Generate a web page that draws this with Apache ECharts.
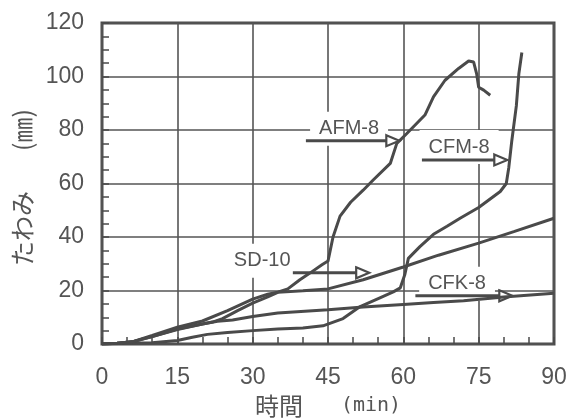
<!DOCTYPE html>
<html>
<head>
<meta charset="utf-8">
<script src="https://cdn.jsdelivr.net/npm/echarts@6/dist/echarts.min.js"></script>
<style>
  html, body { margin: 0; padding: 0; background: #fff; }
  #chart { width: 572px; height: 419px; }
</style>
</head>
<body>
<div id="chart"></div>
<script>
// Deflection (mm) against heating time (min) for four specimens
const xTicks = [0, 15, 30, 45, 60, 75, 90];
const yTicks = [0, 20, 40, 60, 80, 100, 120];

const afm8 = [[0,0],[3,0.3],[6,0.8],[10,3.2],[15,6.3],[20,8.6],[25,12.5],[30,16.8],[33,18.6],[35,19.4],
  [37,20.6],[39.4,24],[41.4,26.5],[43.8,29.6],[45,31],[46,40],[47.4,47.8],[49.5,53],[52,57.5],[54,61.3],
  [57.4,67.5],[58.7,75],[60.7,78.7],[64.3,85.6],[66,92.4],[68.3,98.6],[71,103],[73,105.8],[74,105.4],
  [74.6,101],[75,96],[76,94.9],[77.3,93]];

const cfm8 = [[0,0],[5,0.3],[10,0.5],[15,1.3],[18,2.5],[21,3.6],[25,4.3],[30,5],[35,5.6],[40,6],[44,6.8],[48,9.5],
  [51.4,14],[55,17],[58,19.5],[59.4,21],[60.3,26],[61,32],[63.3,36.4],[66,41],[68.7,44],[71.3,47],[75,51],
  [79.3,57],[80.5,60],[81,66],[81.6,76],[82.5,89],[83,101],[83.6,109]];

const sd10 = [[0,0],[3,0.3],[6,0.8],[10,2.8],[15,5.6],[20,7.5],[22,8.2],[24,9.5],[27,12.5],[30,15.3],
  [33,17.6],[35,19.3],[40,19.9],[45,20.6],[52,24],[60,28.8],[67,33.2],[75,37.7],[82,42],[90,47]];

const cfk8 = [[0,0],[3,0.3],[6,0.8],[10,2.8],[15,5.4],[20,7.5],[23,8.5],[26,9],[30,10.3],[35,11.6],
  [45,12.8],[52,13.8],[60,14.8],[66,15.5],[72,16.2],[80,17.6],[90,19]];

// Callouts: arrow from x1 to x2 at height y, label centred at (tx, ty)
const calloutNames = ['AFM-8', 'CFM-8', 'SD-10', 'CFK-8'];
const calloutArrows = [[40.6, 59.2, 76.0], [63.7, 80.7, 68.8], [38.0, 53.2, 26.6], [62.4, 81.7, 18.0]];
const calloutText = [[49.2, 80.5], [71.1, 73.6], [31.9, 31.1], [70.7, 22.5]];

const ink = '#4a4a4a';
const textInk = '#555';

const calloutData = calloutNames.map((n, i) =>
  [calloutArrows[i][0], calloutArrows[i][1], calloutArrows[i][2], calloutText[i][0], calloutText[i][1], n]);

function renderCallout(params, api) {
  const p1 = api.coord([api.value(0), api.value(2)]);
  const p2 = api.coord([api.value(1), api.value(2)]);
  const t = api.coord([api.value(3), api.value(4)]);
  const name = calloutNames[params.dataIndex];
  const head = 13, half = 5.5;
  return {
    type: 'group',
    children: [
      {
        type: 'text',
        style: {
          text: name, x: t[0], y: t[1], align: 'center', verticalAlign: 'middle',
          fill: textInk, font: '20px "Liberation Sans", Arial, sans-serif',
          backgroundColor: '#fff', padding: [7, 9]
        }
      },
      {
        type: 'line',
        shape: { x1: p1[0], y1: p1[1], x2: p2[0] - head, y2: p2[1] },
        style: { stroke: ink, lineWidth: 3 }
      },
      {
        type: 'polygon',
        shape: { points: [[p2[0] - head, p2[1] - half], [p2[0], p2[1]], [p2[0] - head, p2[1] + half]] },
        style: { fill: '#fff', stroke: ink, lineWidth: 2.2 }
      }
    ]
  };
}

function curve(name, data) {
  return {
    name, type: 'line', data, showSymbol: false, smooth: false,
    lineStyle: { color: ink, width: 3 }, z: 3
  };
}

const labelFont = '"Liberation Sans", Arial, sans-serif';

const chart = echarts.init(document.getElementById('chart'), null, { renderer: 'canvas' });
chart.setOption({
  animation: false,
  backgroundColor: '#fff',
  grid: {
    left: 102, right: 18, top: 23, bottom: 75, outerBoundsMode: 'none',
    show: true, borderColor: ink, borderWidth: 3, backgroundColor: 'transparent'
  },
  xAxis: {
    type: 'value', min: xTicks[0], max: xTicks[xTicks.length - 1], interval: 15,
    name: '{a|時間}{s|　　}{b|(min)}', nameLocation: 'middle', nameGap: 50,
    nameTextStyle: {
      rich: {
        a: { fontFamily: '"Noto Sans CJK JP"', fontSize: 24, color: textInk },
        s: { fontFamily: '"Noto Sans CJK JP"', fontSize: 19 },
        b: { fontFamily: '"DejaVu Sans Mono", monospace', fontSize: 20, color: textInk }
      }
    },
    axisLine: { show: false },
    axisTick: { show: true, inside: true, length: 7, lineStyle: { color: ink, width: 1.5 } },
    minorTick: { show: true, splitNumber: 3, length: 7, lineStyle: { color: ink, width: 1.5 } },
    splitLine: { show: true, lineStyle: { color: '#555', width: 1.6 } },
    axisLabel: { margin: 22, color: textInk, fontSize: 23, fontFamily: labelFont,
      formatter: v => xTicks.includes(v) ? String(v) : '' }
  },
  yAxis: {
    type: 'value', min: yTicks[0], max: yTicks[yTicks.length - 1], interval: 20,
    name: '{a|たわみ}{s|　　}{a|(㎜)}', nameLocation: 'middle', nameGap: 64, nameRotate: 90,
    nameTextStyle: {
      padding: [0, 8, 0, 0],
      rich: {
        a: { fontFamily: '"Noto Sans CJK JP"', fontSize: 25, color: textInk },
        s: { fontFamily: '"Noto Sans CJK JP"', fontSize: 20 }
      }
    },
    axisLine: { show: false },
    axisTick: { show: true, inside: true, length: 7, lineStyle: { color: ink, width: 1.5 } },
    minorTick: { show: true, splitNumber: 4, length: 7, lineStyle: { color: ink, width: 1.5 } },
    splitLine: { show: true, lineStyle: { color: '#555', width: 1.6 } },
    axisLabel: { margin: 18, color: textInk, fontSize: 23, fontFamily: labelFont }
  },
  series: [
    {
      type: 'custom', coordinateSystem: 'cartesian2d', data: calloutData,
      renderItem: renderCallout, clip: false, z: 2, silent: true
    },
    curve('AFM-8', afm8),
    curve('CFM-8', cfm8),
    curve('SD-10', sd10),
    curve('CFK-8', cfk8)
  ]
});
</script>
</body>
</html>
